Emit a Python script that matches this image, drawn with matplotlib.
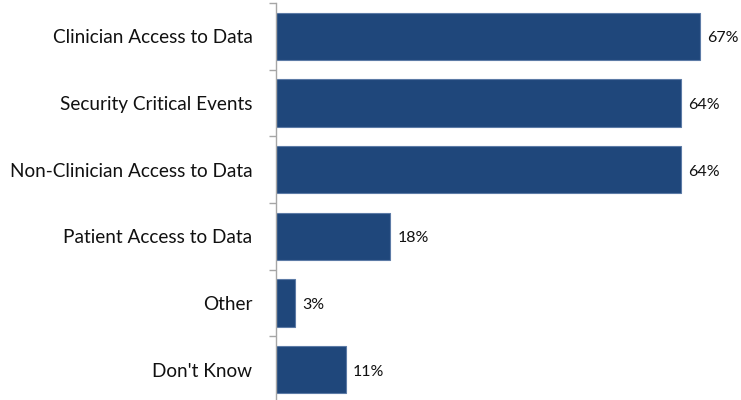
import matplotlib.pyplot as plt
import numpy as np

plt.rcParams['font.family'] = ['Lato', 'DejaVu Sans']

categories = ["Clinician Access to Data", "Security Critical Events",
              "Non-Clinician Access to Data", "Patient Access to Data",
              "Other", "Don't Know"]
percent = [67, 64, 64, 18, 3, 11]

bar_color = "#1F477B"
edge_color = "#5C7BA6"


def plot_bars():
    fig = plt.figure(figsize=(7.41, 4.0), dpi=100)
    ax = fig.add_axes([276 / 741, -3 / 400, 1 - 276 / 741, 400 / 400])

    y = np.arange(len(categories))
    ax.barh(y, percent, height=0.71, color=bar_color,
            edgecolor=edge_color, linewidth=0.8)

    # value labels just past the end of each bar
    for yi, v in zip(y, percent):
        ax.text(v + 1.2, yi + 0.03, f"{v}%", va="center", ha="left",
                fontsize=11.5, color="#111111")

    ax.set_xlim(0, 73.5)
    ax.set_ylim(len(categories) - 0.5, -0.5)

    # category names centred on bars, ticks on the boundaries
    ax.set_yticks(y)
    ax.set_yticklabels(categories, fontsize=13.7, color="#111111")
    ax.set_yticks(np.arange(len(categories) + 1) - 0.5, minor=True)
    ax.tick_params(axis="y", which="major", length=0, pad=17)
    ax.tick_params(axis="y", which="minor", length=5, width=1,
                   color="#A6A6A6", direction="out")

    ax.set_xticks([])
    for side in ["top", "right", "bottom"]:
        ax.spines[side].set_visible(False)
    ax.spines["left"].set_color("#A6A6A6")
    ax.spines["left"].set_linewidth(1)

    fig.savefig("out.png", dpi=100)


if __name__ == "__main__":
    plot_bars()
